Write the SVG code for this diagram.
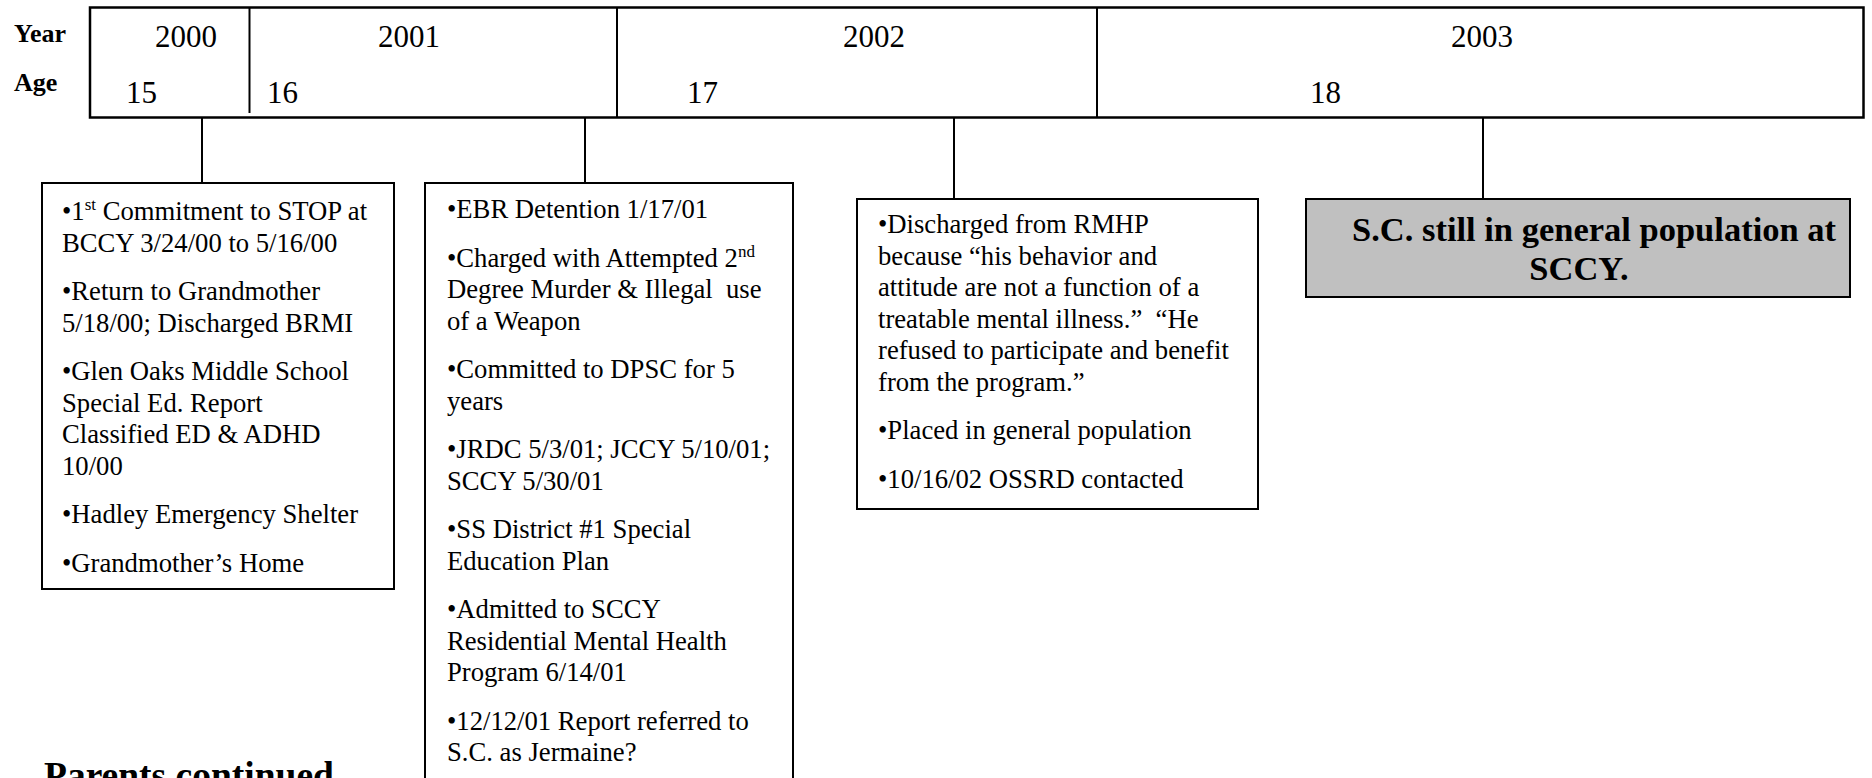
<svg xmlns="http://www.w3.org/2000/svg" width="1872" height="778" viewBox="0 0 1872 778">
<style>
text{font-family:"Liberation Serif","Times New Roman",serif;fill:#000}
.lbl{font-size:26px;font-weight:bold}
.yr{font-size:31px}
.body{font-size:26.67px}
.sup{font-size:17px}
.box{fill:#fff;stroke:#000;stroke-width:2}
.conn line{stroke:#000;stroke-width:2}
.big{font-size:34.5px;font-weight:bold}
</style>
<rect width="1872" height="778" fill="#fff"/>
<g id="timeline">
<rect x="90" y="7.5" width="1773.5" height="110" fill="#fff" stroke="#000" stroke-width="2.5"/>
<line x1="249.5" y1="7.5" x2="249.5" y2="113" stroke="#000" stroke-width="2"/>
<line x1="617" y1="7.5" x2="617" y2="117.5" stroke="#000" stroke-width="2"/>
<line x1="1097" y1="7.5" x2="1097" y2="117.5" stroke="#000" stroke-width="2"/>
<text class="lbl" x="14" y="42">Year</text>
<text class="lbl" x="14" y="91">Age</text>
<text class="yr" x="186" y="47" text-anchor="middle">2000</text>
<text class="yr" x="409" y="47" text-anchor="middle">2001</text>
<text class="yr" x="874" y="47" text-anchor="middle">2002</text>
<text class="yr" x="1482" y="47" text-anchor="middle">2003</text>
<text class="yr" x="126" y="103">15</text>
<text class="yr" x="267" y="103">16</text>
<text class="yr" x="687" y="103">17</text>
<text class="yr" x="1310" y="103">18</text>
</g>
<g class="conn" id="connectors">
<line x1="202" y1="117.5" x2="202" y2="183"/>
<line x1="585" y1="117.5" x2="585" y2="183"/>
<line x1="954" y1="117.5" x2="954" y2="199"/>
<line x1="1483" y1="117.5" x2="1483" y2="199"/>
</g>
<g id="box2000">
<rect class="box" x="42" y="183" width="352" height="406"/>
<text class="body" x="62" y="220">•1<tspan class="sup" dy="-10">st</tspan><tspan dy="10"> Commitment to STOP at</tspan></text>
<text class="body" x="62" y="251.5">BCCY 3/24/00 to 5/16/00</text>
<text class="body" x="62" y="300">•Return to Grandmother</text>
<text class="body" x="62" y="331.5">5/18/00; Discharged BRMI</text>
<text class="body" x="62" y="380">•Glen Oaks Middle School</text>
<text class="body" x="62" y="411.5">Special Ed. Report</text>
<text class="body" x="62" y="443">Classified ED &amp; ADHD</text>
<text class="body" x="62" y="474.5">10/00</text>
<text class="body" x="62" y="523">•Hadley Emergency Shelter</text>
<text class="body" x="62" y="571.5">•Grandmother’s Home</text>
</g>
<g id="box2001">
<rect class="box" x="425" y="183" width="368" height="620"/>
<text class="body" x="447" y="218">•EBR Detention 1/17/01</text>
<text class="body" x="447" y="266.5">•Charged with Attempted 2<tspan class="sup" dy="-10">nd</tspan></text>
<text class="body" x="447" y="298">Degree Murder &amp; Illegal&#160; use</text>
<text class="body" x="447" y="329.5">of a Weapon</text>
<text class="body" x="447" y="378">•Committed to DPSC for 5</text>
<text class="body" x="447" y="409.5">years</text>
<text class="body" x="447" y="458">•JRDC 5/3/01; JCCY 5/10/01;</text>
<text class="body" x="447" y="489.5">SCCY 5/30/01</text>
<text class="body" x="447" y="538">•SS District #1 Special</text>
<text class="body" x="447" y="569.5">Education Plan</text>
<text class="body" x="447" y="618">•Admitted to SCCY</text>
<text class="body" x="447" y="649.5">Residential Mental Health</text>
<text class="body" x="447" y="681">Program 6/14/01</text>
<text class="body" x="447" y="729.5">•12/12/01 Report referred to</text>
<text class="body" x="447" y="761">S.C. as Jermaine?</text>
</g>
<g id="box2002">
<rect class="box" x="857" y="199" width="401" height="310"/>
<text class="body" x="878" y="233">•Discharged from RMHP</text>
<text class="body" x="878" y="264.5">because “his behavior and</text>
<text class="body" x="878" y="296">attitude are not a function of a</text>
<text class="body" x="878" y="327.5">treatable mental illness.”&#160; “He</text>
<text class="body" x="878" y="359">refused to participate and benefit</text>
<text class="body" x="878" y="390.5">from the program.”</text>
<text class="body" x="878" y="439">•Placed in general population</text>
<text class="body" x="878" y="487.5">•10/16/02 OSSRD contacted</text>
</g>
<g id="box2003">
<rect x="1306" y="199" width="544" height="98" fill="#c0c0c0" stroke="#000" stroke-width="2"/>
<text class="big" x="1594" y="241" text-anchor="middle">S.C. still in general population at</text>
<text class="big" x="1579" y="280" text-anchor="middle">SCCY.</text>
</g>
<g id="footer">
<text x="44" y="788" style="font-size:37.5px;font-weight:bold">Parents continued</text>
</g>
</svg>
